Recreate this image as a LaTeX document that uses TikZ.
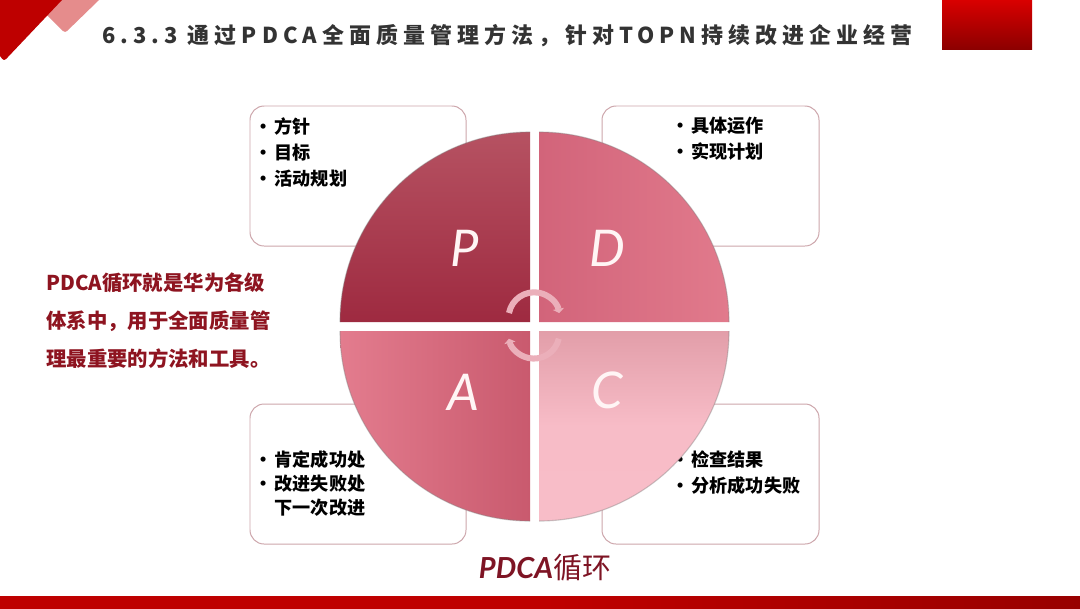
\documentclass[tikz,border=0pt]{standalone}
\usepackage{fontspec}
\usetikzlibrary{arrows.meta}
\newfontfamily\cjk{Noto Sans CJK SC}
\newfontfamily\cjktitle[LetterSpace=23]{Noto Sans CJK SC}
\newfontfamily\handfont{Lato}
\newcommand{\listdot}{•\hspace{1.6pt}}
\newcommand{\widecomma}{\char"FF0C\relax}
\definecolor{slidered}{HTML}{BE0000}
\definecolor{cornerpink}{HTML}{E58C8C}
\definecolor{boxline}{HTML}{CDA6AC}
\definecolor{arcpink}{HTML}{EBAFBA}
\definecolor{wine}{HTML}{7E1424}
\definecolor{sumred}{HTML}{8E1420}
\definecolor{ptop}{HTML}{B65262}
\definecolor{pbot}{HTML}{9E2A40}
\definecolor{dleft}{HTML}{D2647A}
\definecolor{dright}{HTML}{E17A8C}
\definecolor{aleft}{HTML}{E37C8E}
\definecolor{aright}{HTML}{C95A6E}
\definecolor{ctop}{HTML}{E29EA9}
\definecolor{cbot}{HTML}{F8BDC8}
\tikzset{
  listbox/.style={draw=boxline,line width=0.7pt,rounded corners=10pt,fill=white},
  listtext/.style={anchor=north west,align=left,inner sep=0pt,text=black,font=\cjk\bfseries\fontsize{12.9}{18.5}\selectfont},
  letter/.style={text=white!96!red,font=\handfont\itshape\fontsize{36}{36}\selectfont},
  turnarc/.style={draw=arcpink,line width=4.3pt,-{Triangle[width=8pt,length=3pt]}},
  rimline/.style={draw=black!50,opacity=0.4,line width=0.8pt}
}
\begin{document}
\begin{tikzpicture}
\useasboundingbox (0.000,0.000) rectangle (27.000,-15.200);
\fill[white] (0.000,0.000) rectangle (27.000,-15.200);
\fill[cornerpink] (2.475,0.000) [rounded corners=2pt] -- (1.625,-0.825) [sharp corners] -- (0.800,0.000) -- cycle;
\fill[slidered] (1.550,0.000) [rounded corners=2pt] -- (0.100,-1.530) [sharp corners] -- (0.000,-1.400) -- (0.000,0.000) -- cycle;
\node[anchor=west,inner sep=0pt,text=black!80,font=\cjktitle\bfseries\fontsize{15.6}{18}\selectfont] (title) at (2.550,-0.900) {6.3.3 通过PDCA全面质量管理方法\widecomma 针对TOPN持续改进企业经营};
\shade[top color=red!85!black,bottom color=red!55!black] (23.550,0.000) rectangle (25.800,-1.225);
\shade[left color=slidered,right color=slidered!80!black,middle color=red!75!black] (0.000,-14.900) rectangle (27.000,-15.200);
\draw[listbox] (6.250,-2.650) rectangle (11.650,-6.150);
\draw[listbox] (15.050,-2.650) rectangle (20.475,-6.150);
\draw[listbox] (6.250,-10.100) rectangle (11.650,-13.600);
\draw[listbox] (15.050,-10.100) rectangle (20.475,-13.600);
\node[listtext] (plan) at (6.350,-2.925) {\listdot 方针\\\listdot 目标\\\listdot 活动规划};
\node[listtext] (do) at (16.770,-2.925) {\listdot 具体运作\\\listdot 实现计划};
\node[listtext] (act) at (6.350,-11.250) {\listdot 肯定成功处\\[-1.4pt]\listdot 改进失败处\\[-1.4pt]\phantom{\listdot}下一次改进};
\node[listtext] (check) at (16.770,-11.250) {\listdot 检查结果\\\listdot 分析成功失败};
\shade[top color=ptop,bottom color=pbot] (13.250,-8.050) -- (8.500,-8.050) arc[start angle=180,end angle=90,radius=4.750] -- cycle;
\shade[left color=dleft,right color=dright] (13.475,-8.050) -- (13.475,-3.300) arc[start angle=90,end angle=0,radius=4.750] -- cycle;
\shade[left color=aleft,right color=aright] (13.250,-8.275) -- (8.500,-8.275) arc[start angle=180,end angle=270,radius=4.750] -- cycle;
\shade[top color=ctop,bottom color=cbot,middle color=cbot!97!ctop] (13.475,-8.275) -- (18.225,-8.275) arc[start angle=0,end angle=-90,radius=4.750] -- cycle;
\draw[rimline] (8.500,-8.050) arc[start angle=180,end angle=90,radius=4.750];
\draw[rimline] (13.475,-3.300) arc[start angle=90,end angle=0,radius=4.750];
\draw[rimline] (8.500,-8.275) arc[start angle=180,end angle=270,radius=4.750];
\draw[rimline] (18.225,-8.275) arc[start angle=0,end angle=-90,radius=4.750];
\node[letter] (letterp) at (11.625,-6.200) {P};
\node[letter] (letterd) at (15.175,-6.200) {D};
\node[letter] (lettera) at (11.575,-9.800) {A};
\node[letter] (letterc) at (15.175,-9.750) {C};
\draw[turnarc] (12.725,-7.825) arc[start angle=169,end angle=11,radius=0.640];
\draw[turnarc] (13.970,-8.468) arc[start angle=-13,end angle=-167,radius=0.640];
\node[anchor=north west,align=left,inner sep=0pt,text=sumred,font=\cjk\bfseries\fontsize{14.5}{26.7}\selectfont] (summary) at (1.150,-6.825) {PDCA循环就是华为各级\\体系中\widecomma 用于全面质量管\\理最重要的方法和工具。};
\node[text=wine,font=\fontsize{20.6}{22}\selectfont] (caption) at (13.625,-14.200) {{\handfont\bfseries\itshape PDCA}{\cjk 循环}};
\end{tikzpicture}
\end{document}
